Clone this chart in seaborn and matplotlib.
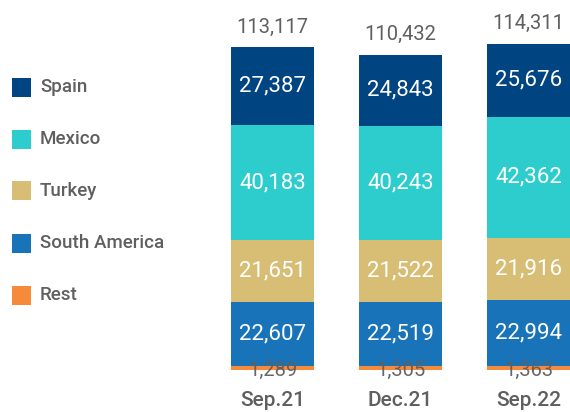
import matplotlib
matplotlib.use("Agg")
import matplotlib.pyplot as plt
from matplotlib.patches import Rectangle
import numpy as np
import pandas as pd
import seaborn as sns

periods = ["Sep.21", "Dec.21", "Sep.22"]
segments = ["Spain", "Mexico", "Turkey", "South America", "Rest"]
spain = [27387, 24843, 25676]
mexico = [40183, 40243, 42362]
turkey = [21651, 21522, 21916]
south_america = [22607, 22519, 22994]
rest = [1289, 1305, 1363]
totals = [113117, 110432, 114311]

colors = {
    "Spain": "#004481",
    "Mexico": "#2DCCCD",
    "Turkey": "#D8BE75",
    "South America": "#1973B8",
    "Rest": "#F7893B",
}
grey = "#5f5f5f"

sns.set_theme(style="white")
plt.rcParams["font.family"] = ["Roboto", "DejaVu Sans"]

df = pd.DataFrame({
    "period": periods,
    "Rest": rest,
    "South America": south_america,
    "Turkey": turkey,
    "Mexico": mexico,
    "Spain": spain,
})
stack_order = ["Rest", "South America", "Turkey", "Mexico", "Spain"]
cum = df[stack_order].cumsum(axis=1)
bottoms = cum.shift(axis=1).fillna(0)

W, H = 570, 412
fig = plt.figure(figsize=(W / 100, H / 100), dpi=100)
ax = fig.add_axes([208.5 / W, 42 / H, (W - 208.5) / W, 370 / H])

# draw from the tallest cumulative layer down so each layer covers the one above
for seg in reversed(stack_order):
    sns.barplot(x=df["period"], y=cum[seg], color=colors[seg], width=0.65,
                saturation=1, ax=ax, linewidth=0)

for i in range(len(periods)):
    for seg in ["South America", "Turkey", "Mexico", "Spain"]:
        val = df.loc[i, seg]
        mid = bottoms.loc[i, seg] + val / 2
        ax.text(i, mid, f"{val:,}", ha="center", va="center",
                color="white", fontsize=16)
    ax.text(i, 0, f"{rest[i]:,}", ha="center", va="center",
            color=grey, fontsize=14.5, alpha=0.95)
    ax.annotate(f"{totals[i]:,}", (i, totals[i]), xytext=(0, 7.5),
                textcoords="offset points", ha="center", va="bottom",
                color=grey, fontsize=14.5)

ax.set_ylim(0, 129550)
ax.set_xlim(-0.5, 2.324)
ax.set_xlabel("")
ax.set_ylabel("")
ax.set_yticks([])
ax.tick_params(axis="x", length=0, pad=15, labelsize=15, labelcolor=grey)
for lab in ax.get_xticklabels():
    lab.set_fontweight("medium")
for s in ax.spines.values():
    s.set_visible(False)

# legend: coloured squares with labels, one row every 52 px
for k, seg in enumerate(segments):
    yc = 87 + 52 * k
    fig.add_artist(Rectangle((12 / W, (H - yc - 9.5) / H), 19 / W, 19 / H,
                             transform=fig.transFigure, facecolor=colors[seg],
                             edgecolor="none"))
    fig.text(40 / W, (H - yc) / H, seg, ha="left", va="center",
             color=grey, fontsize=13.5, fontweight="medium")

fig.savefig("out.png", dpi=100)
